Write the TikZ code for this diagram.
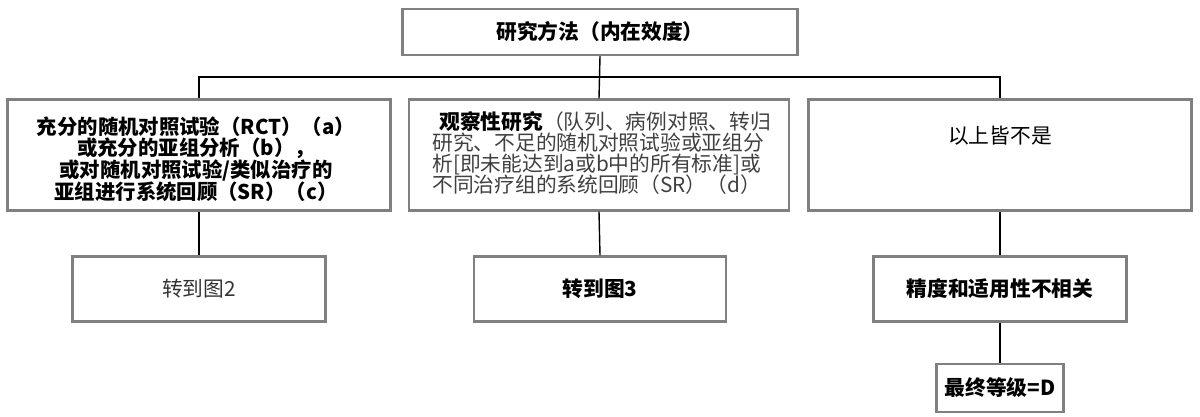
\documentclass[tikz,border=0pt]{standalone}
\usepackage{fontspec}
\setmainfont{Noto Sans CJK SC}
\def\unit{0.02cm}
\lineskiplimit=-20pt

\begin{document}
\begin{tikzpicture}[x=\unit, y=-\unit,
    every node/.style={font=\fontsize{11.8}{12}\selectfont},
    blk/.style={draw=black!50, line width=1.4pt, rectangle, inner sep=0pt, anchor=center},
    link/.style={draw=black, line width=0.8pt}]
      \useasboundingbox (0,0) rectangle (1200,416);
      % top row
      \node[blk, minimum width=7.9cm, minimum height=0.92cm, font=\fontsize{11.8}{12}\selectfont\bfseries] (method) at (600,32) {研究方法（内在效度）};
      % middle row
      \node[blk, minimum width=7.66cm, minimum height=2.22cm] (rct) at (199,155) {};
      \node[align=center, inner sep=0pt, font=\fontsize{11.6}{12.3}\selectfont\bfseries] (rcttxt) at (196,159) {充分的随机对照试验（RCT）（a）\\或充分的亚组分析（b），\\或对随机对照试验/类似治疗的\\亚组进行系统回顾（SR）（c）};
      \node[blk, minimum width=7.6cm, minimum height=2.22cm] (obs) at (599,155) {};
      \node[anchor=north west, align=left, text=black!75, inner sep=0pt, font=\fontsize{11.8}{12}\selectfont] (obstxt) at (432,111) {\hspace{4pt}\textcolor{black}{\bfseries 观察性研究}（队列、病例对照、转归\\研究、不足的随机对照试验或亚组分\\析[即未能达到a或b中的所有标准]或\\不同治疗组的系统回顾（SR）（d）};
      \node[blk, minimum width=7.66cm, minimum height=2.22cm] (none) at (1000,155) {};
      \node (nonetxt) at (1000,136) {以上皆不是};
      % bottom row
      \node[blk, minimum width=5.06cm, minimum height=1.3cm, text=black!80] (fig2) at (199,289) {转到图2};
      \node[blk, minimum width=5.04cm, minimum height=1.3cm, font=\fontsize{11.8}{12}\selectfont\bfseries] (fig3) at (600,289) {转到图3};
      \node[blk, minimum width=5.06cm, minimum height=1.3cm, font=\fontsize{11.8}{12}\selectfont\bfseries] (na) at (1000,289) {精度和适用性不相关};
      \node[blk, minimum width=2.54cm, minimum height=0.96cm, font=\fontsize{11.8}{12}\selectfont\bfseries] (grade) at (1000,388) {最终等级=D};
      % connectors
      \coordinate (bus) at (600,77);
      \draw[link] (method.south) -- (obs.north);
      \draw[link] (rct.north) -- (rct.north |- bus) -- (none.north |- bus) -- (none.north);
      \draw[link] (rct.south) -- (fig2.north);
      \draw[link] (obs.south) -- (fig3.north);
      \draw[link] (none.south) -- (na.north);
      \draw[link] (na.south) -- (grade.north);
    \end{tikzpicture}
\end{document}
